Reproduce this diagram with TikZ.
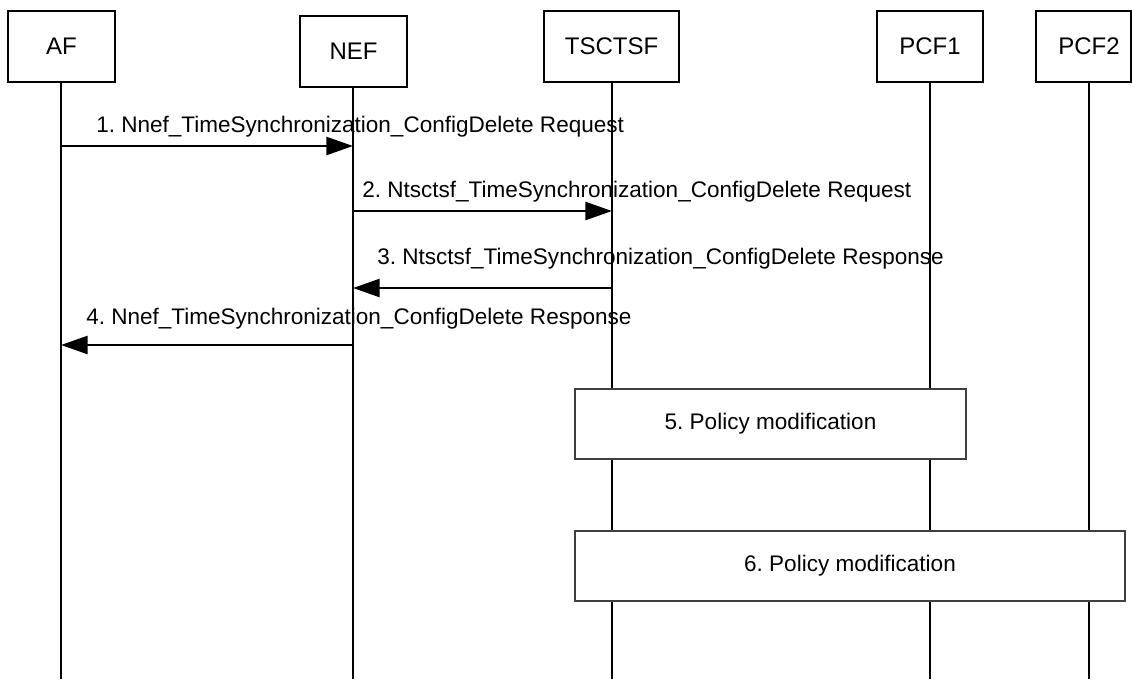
\documentclass[tikz,border=0pt]{standalone}
\usepackage{fontspec}
\setmainfont{Liberation Sans}
\usetikzlibrary{arrows.meta}
\frenchspacing
\begin{document}
\begin{tikzpicture}[x=0.75pt,y=-0.75pt,
 part/.style={draw=black,line width=1.1pt,fill=white,inner sep=0pt,minimum height=53.25pt,font=\fontsize{18}{21}\selectfont},
 life/.style={line width=0.9pt},
 msg/.style={line width=1.9pt,-{Triangle[length=20pt,width=13.5pt]}},
 lbl/.style={anchor=base west,inner sep=0pt,font=\fontsize{16.9}{20}\selectfont},
 act/.style={draw=black!75,line width=0.9pt,fill=white,inner sep=0pt,minimum height=52.5pt,font=\fontsize{16.9}{20}\selectfont}]
\useasboundingbox (0,0) rectangle (1132,679);
% participants
\node[part,minimum width=80.25pt] (af) at (61.5,46.5) {AF};
\node[part,minimum width=80.25pt] (nef) at (353.5,51.5) {NEF};
\node[part,minimum width=101.25pt] (tsc) at (611.5,46.5) {TSCTSF};
\node[part,minimum width=79.5pt] (pcf1) at (930,46.5) {PCF1};
\node[part,minimum width=71.25pt] (pcf2) at (1083.5,46.5) {\hspace*{8.25pt}PCF2};
% lifeline ends
\coordinate (afE) at (61,679);
\coordinate (nefE) at (353,679);
\coordinate (tscE) at (612,679);
\coordinate (pcf1E) at (930,679);
\coordinate (pcf2E) at (1089,679);
\draw[life] (af.south -| afE) -- (afE);
\draw[life] (nef.south -| nefE) -- (nefE);
\draw[life] (tsc.south -| tscE) -- (tscE);
\draw[life] (pcf1.south -| pcf1E) -- (pcf1E);
\draw[life] (pcf2.south -| pcf2E) -- (pcf2E);
% message points
\coordinate (a1) at (61,146); \coordinate (n1) at (353,146);
\coordinate (n2) at (353,211); \coordinate (t2) at (612,211);
\coordinate (t3) at (612,288); \coordinate (n3) at (353,288);
\coordinate (n4) at (353,345); \coordinate (a4) at (61,345);
\draw[msg] (a1) -- (n1);
\draw[msg] (n2) -- (t2);
\draw[msg] (t3) -- (n3);
\draw[msg] (n4) -- (a4);
\node[lbl] (l1) at (96,132) {1. Nnef\_TimeSynchronization\_ConfigDelete Request};
\node[lbl] (l2) at (362,197) {2. Ntsctsf\_TimeSynchronization\_ConfigDelete Request};
\node[lbl] (l3) at (377,264) {3. Ntsctsf\_TimeSynchronization\_ConfigDelete Response};
\node[lbl] (l4) at (86,324) {4. Nnef\_TimeSynchronization\_ConfigDelete Response};
% policy boxes
\node[act,minimum width=293.25pt] (p5) at (770.5,424) {5. Policy modification};
\node[act,minimum width=412.5pt] (p6) at (850,566) {6. Policy modification};
\end{tikzpicture}
\end{document}
